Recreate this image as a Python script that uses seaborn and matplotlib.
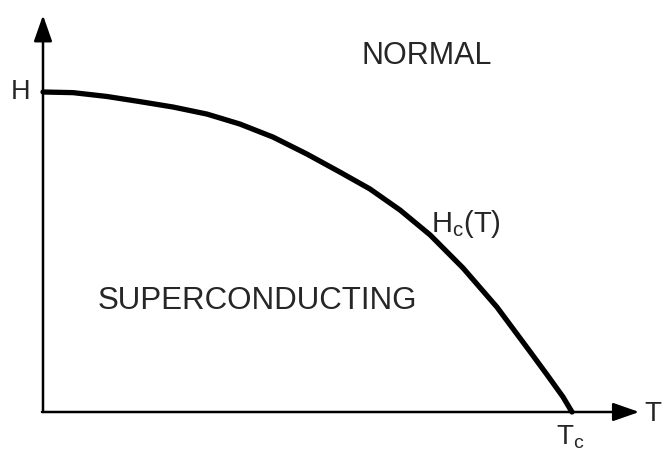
import matplotlib
matplotlib.use("Agg")
import matplotlib.pyplot as plt
import seaborn as sns
import pandas as pd

# Critical field curve Hc(T) (T/Tc, H/H0)
temp = [0.0, 0.057, 0.121, 0.183, 0.246, 0.310, 0.372, 0.435, 0.499, 0.561,
        0.618, 0.675, 0.732, 0.794, 0.858, 0.921, 0.953, 0.983, 1.0]
field = [1.0, 0.998, 0.986, 0.970, 0.953, 0.931, 0.900, 0.859, 0.806, 0.750,
         0.697, 0.631, 0.553, 0.450, 0.328, 0.188, 0.116, 0.047, 0.0]

df = pd.DataFrame({"T": temp, "H": field})

sns.set_style("white")
plt.rcParams["font.family"] = ["Liberation Sans", "DejaVu Sans"]
plt.rcParams["mathtext.default"] = "regular"

fig = plt.figure(figsize=(6.62, 4.57), dpi=100)
ax = fig.add_axes([0, 0, 1, 1])

# the curve
sns.lineplot(data=df, x="T", y="H", sort=False, estimator=None,
             color="black", linewidth=3.8, ax=ax)
for ln in ax.lines:
    ln.set_solid_joinstyle("round")

# axes drawn as arrows
arrow = dict(arrowstyle="-|>,head_length=0.8,head_width=0.28",
             color="black", lw=1.8, mutation_scale=20, shrinkA=0, shrinkB=0)
ax.annotate("", xy=(0, 1.24), xytext=(0, 0), arrowprops=arrow)
ax.annotate("", xy=(1.127, 0), xytext=(-0.002, 0), arrowprops=arrow)

# labels
ax.text(-0.043, 1.0, "H", fontsize=19.5, ha="center", va="center")
ax.text(1.153, -0.005, "T", fontsize=20, ha="center", va="center")
ax.text(0.997, -0.103, "T$_c$", fontsize=20, ha="center", va="baseline")
ax.text(0.726, 1.112, "NORMAL", fontsize=22, ha="center", va="center")
ax.text(0.405, 0.348, "SUPERCONDUCTING", fontsize=22.5, ha="center",
        va="center")
ax.text(0.733, 0.562, "H$_c$(T)", fontsize=21, ha="left", va="baseline")

ax.set_xlim(-43 / 529, 619 / 529)
ax.set_ylim(-45 / 320, 412 / 320)
ax.axis("off")

fig.savefig("out.png", dpi=100)
